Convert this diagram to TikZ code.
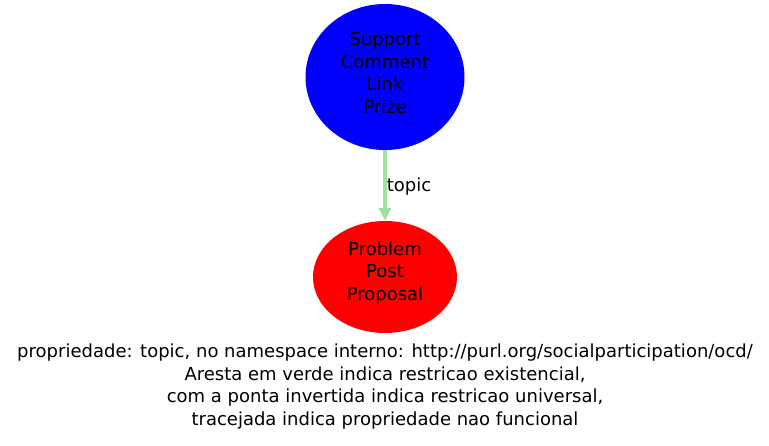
\documentclass[tikz,border=0pt]{standalone}
\usepackage{fontspec}
\setmainfont{DejaVu Sans}
\usetikzlibrary{arrows.meta}
\definecolor{edgegreen}{RGB}{157,227,157}
\begin{document}
\begin{tikzpicture}[x=1pt,y=-1pt,
  lbl/.style={font=\fontsize{18}{22.4}\selectfont, align=center, text=black, inner sep=0pt},
  every node/.style={lbl}]
\useasboundingbox (0,0) rectangle (769,445);
\fill[blue] (385,77) ellipse [x radius=79.5, y radius=73];
\node[minimum width=159, minimum height=146] (src) at (385,77) {};
\node at (385,73) {Support\\Comment\\Link\\Prize};
\fill[red] (385,277) ellipse [x radius=72, y radius=56];
\node[minimum width=144, minimum height=112] (dst) at (385,277) {};
\node at (385,273) {Problem\\Post\\Proposal};
\draw[edgegreen, line width=4.5pt, -{Triangle[length=13pt,width=12pt]}] (src.south) -- (dst.north) node[midway, anchor=west, xshift=-0.5pt, yshift=-1pt, text=black] {topic};
\node (caption) at (385,386.5) {propriedade: topic, no namespace interno: http://purl.org/socialparticipation/ocd/\\Aresta em verde indica restricao existencial,\\com a ponta invertida indica restricao universal,\\tracejada indica propriedade nao funcional};
\end{tikzpicture}
\end{document}
